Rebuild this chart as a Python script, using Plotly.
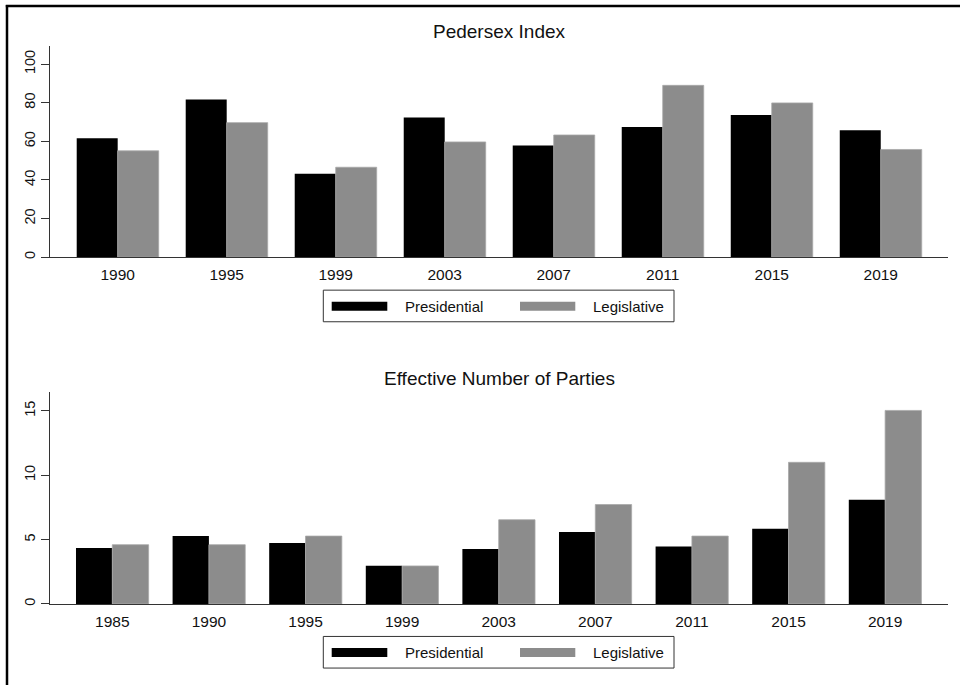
import plotly.graph_objects as go

# Pedersen volatility index by election year
ped_years = ["1990", "1995", "1999", "2003", "2007", "2011", "2015", "2019"]
ped_presidential = [61.6, 81.7, 43.2, 72.4, 57.8, 67.5, 73.7, 65.7]
ped_legislative = [55.1, 69.7, 46.6, 59.7, 63.3, 89.0, 79.9, 55.8]

# Effective number of parties by election year
enp_years = ["1985", "1990", "1995", "1999", "2003", "2007", "2011", "2015", "2019"]
enp_presidential = [4.34, 5.27, 4.73, 2.97, 4.26, 5.58, 4.47, 5.84, 8.09]
enp_legislative = [4.60, 4.60, 5.27, 2.95, 6.54, 7.72, 5.27, 11.0, 15.03]

series_names = ["Presidential", "Legislative"]
titles = ["Pedersex Index", "Effective Number of Parties"]

W, H = 960, 687
FONT = "Liberation Sans, Arial, Helvetica, sans-serif"
BLACK = "#000000"
GREY = "#8c8c8c"
AXIS = "#333333"


def fx(px):
    return px / W


def fy(py):
    return 1 - py / H


fig = go.Figure()

fig.add_trace(go.Bar(x=ped_years, y=ped_presidential, name=series_names[0],
                     marker=dict(color=BLACK, line=dict(width=0)),
                     xaxis="x", yaxis="y", showlegend=False))
fig.add_trace(go.Bar(x=ped_years, y=ped_legislative, name=series_names[1],
                     marker=dict(color=GREY, line=dict(width=0.8, color="#a8a8a8")),
                     xaxis="x", yaxis="y", showlegend=False))
fig.add_trace(go.Bar(x=enp_years, y=enp_presidential, name=series_names[0],
                     marker=dict(color=BLACK, line=dict(width=0)),
                     xaxis="x2", yaxis="y2", showlegend=False))
fig.add_trace(go.Bar(x=enp_years, y=enp_legislative, name=series_names[1],
                     marker=dict(color=GREY, line=dict(width=0.8, color="#a8a8a8")),
                     xaxis="x2", yaxis="y2", showlegend=False))

plot_x = [fx(50), fx(948)]

xcommon = dict(type="category", showline=True, linecolor=AXIS, linewidth=1,
               ticks="", showgrid=False, zeroline=False, ticklabelstandoff=3,
               tickfont=dict(family=FONT, size=15.5, color="#111"))
ycommon = dict(showline=True, linecolor=AXIS, linewidth=1, ticks="outside",
               ticklen=8, tickcolor=AXIS, tickwidth=1, showgrid=False,
               zeroline=False, tickangle=-90,
               tickfont=dict(family=FONT, size=14.5, color="#111"))

fig.update_layout(
    width=W, height=H,
    margin=dict(l=0, r=0, t=0, b=0),
    paper_bgcolor="white", plot_bgcolor="white",
    barmode="group", bargap=0.248, bargroupgap=0,
    font=dict(family=FONT, color="#111"),
    xaxis=dict(xcommon, domain=plot_x, anchor="y",
               range=[-0.621, len(ped_years) - 1 + 0.617]),
    yaxis=dict(ycommon, domain=[fy(258), fy(45.7)], anchor="x",
               range=[0, 109.6], tickvals=[0, 20, 40, 60, 80, 100]),
    xaxis2=dict(xcommon, domain=plot_x, anchor="y2",
                range=[-0.645, len(enp_years) - 1 + 0.651]),
    yaxis2=dict(ycommon, domain=[fy(605.7), fy(393.3)], anchor="x2",
                range=[0, 16.45], tickvals=[0, 5, 10, 15]),
)

shapes = []
annotations = []

# panel titles
for title, ty in zip(titles, [31.7, 379.3]):
    annotations.append(dict(text=title, x=fx(499), y=fy(ty), xref="paper", yref="paper",
                            xanchor="center", yanchor="middle", showarrow=False,
                            font=dict(family=FONT, size=19, color="#111")))

# legends (one boxed key under each panel)
for dy in [0, 347.3]:
    shapes.append(dict(type="rect", xref="paper", yref="paper",
                       x0=fx(323.3), x1=fx(674), y0=fy(291 + dy), y1=fy(322.7 + dy),
                       line=dict(color=AXIS, width=1), fillcolor="white"))
    for (sx0, sx1, col, tx), name in zip([(331.7, 387.3, BLACK, 402.7),
                                          (520, 575.3, GREY, 590.7)], series_names):
        shapes.append(dict(type="rect", xref="paper", yref="paper",
                           x0=fx(sx0), x1=fx(sx1), y0=fy(302.7 + dy), y1=fy(311.7 + dy),
                           line=dict(width=0), fillcolor=col))
        annotations.append(dict(text=name, x=fx(tx), y=fy(307 + dy), xref="paper", yref="paper",
                                xanchor="left", yanchor="middle", showarrow=False,
                                font=dict(family=FONT, size=15, color="#111")))

# outer frame
shapes.append(dict(type="line", xref="paper", yref="paper", x0=fx(7), x1=fx(7),
                   y0=0, y1=fy(5), line=dict(color="black", width=2.5)))
shapes.append(dict(type="line", xref="paper", yref="paper", x0=fx(5.8), x1=1,
                   y0=fy(6), y1=fy(6), line=dict(color="black", width=2.5)))

fig.update_layout(shapes=shapes, annotations=annotations)

fig.write_html("out.html")
